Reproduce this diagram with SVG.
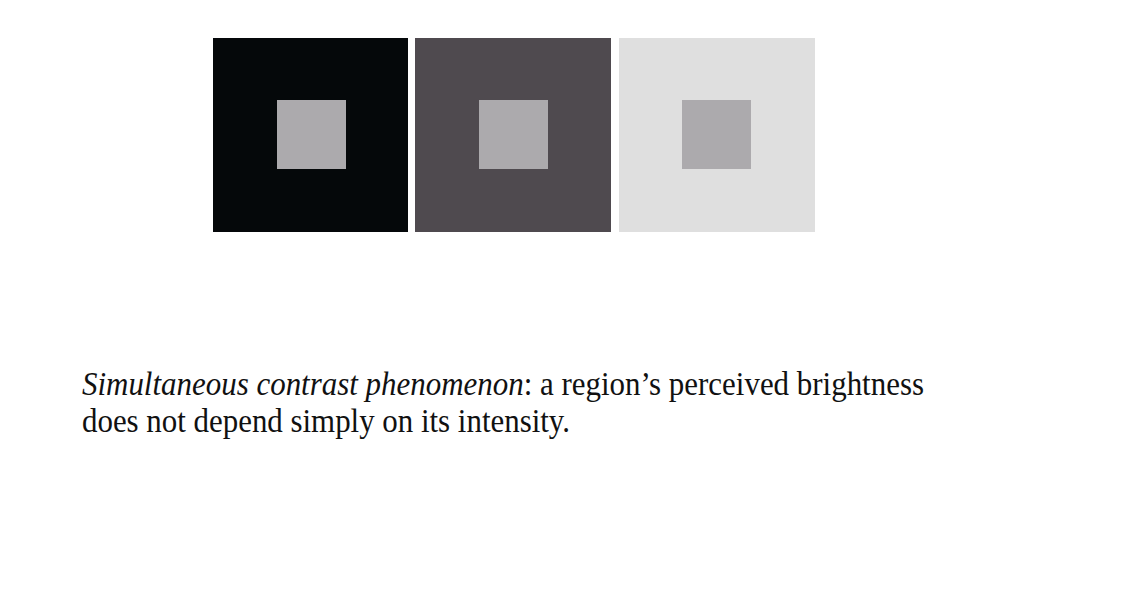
<svg xmlns="http://www.w3.org/2000/svg" width="1132" height="612" viewBox="0 0 1132 612">
<style>
.inner{fill:#acaaad}
.t{font-family:"Liberation Serif","Times New Roman",serif;font-size:33px;fill:#111}
</style>
<rect width="1132" height="612" fill="#fff"/>
<g id="square1">
<rect x="213" y="38" width="195" height="194" fill="#05080a"/>
<rect class="inner" x="277" y="100" width="69" height="69"/>
</g>
<g id="square2">
<rect x="415" y="38" width="196" height="194" fill="#4f4a4f"/>
<rect class="inner" x="479" y="100" width="69" height="69"/>
</g>
<g id="square3">
<rect x="619" y="38" width="196" height="194" fill="#dfdfdf"/>
<rect class="inner" x="682" y="100" width="69" height="69"/>
</g>
<g id="caption">
<text class="t" x="82" y="395" textLength="842" lengthAdjust="spacingAndGlyphs"><tspan font-style="italic">Simultaneous contrast phenomenon</tspan>: a region’s perceived brightness</text>
<text class="t" x="82" y="432" textLength="488" lengthAdjust="spacingAndGlyphs">does not depend simply on its intensity.</text>
</g>
</svg>
